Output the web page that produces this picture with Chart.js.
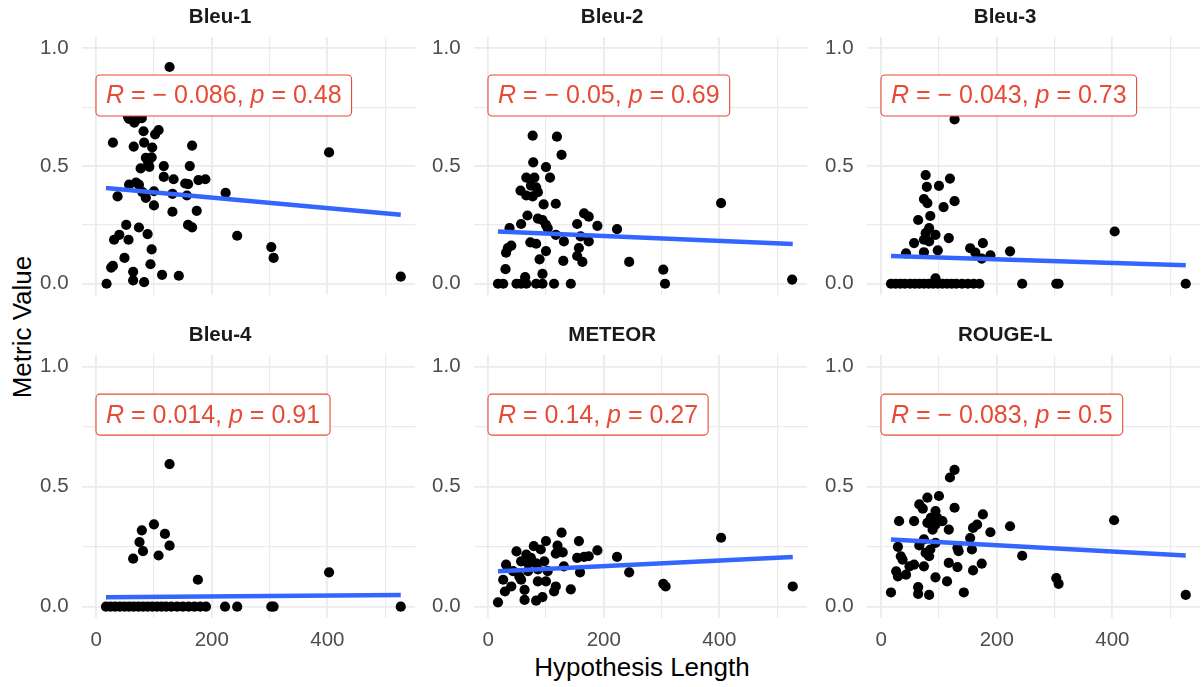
<!DOCTYPE html>
<html>
<head>
<meta charset="utf-8">
<title>Metric value vs hypothesis length</title>
<script src="https://cdn.jsdelivr.net/npm/chart.js@4/dist/chart.umd.min.js"></script>
<style>
  html, body { margin: 0; padding: 0; background: #fff; overflow: hidden; }
  #wrap { position: relative; width: 1204px; height: 687px; font-family: "Liberation Sans", Arial, sans-serif; }
  .panel { position: absolute; }
  .axis-title { position: absolute; color: #000; font-size: 26px; white-space: nowrap; line-height: 1; }
  #ytitle { left: 22px; top: 327px; transform: translate(-50%, -50%) rotate(-90deg); }
  #xtitle { left: 642px; top: 667px; transform: translate(-50%, -50%); }
</style>
</head>
<body>
<div id="wrap">
  <div class="axis-title" id="ytitle">Metric Value</div>
  <div class="axis-title" id="xtitle">Hypothesis Length</div>
</div>
<script>
// facet names, correlation labels and fitted line ends
const metricNames = ['Bleu-1', 'Bleu-2', 'Bleu-3', 'Bleu-4', 'METEOR', 'ROUGE-L'];
const rLabels = ['\u2212 0.086', '\u2212 0.05', '\u2212 0.043', '0.014', '0.14', '\u2212 0.083'];
const pLabels = ['0.48', '0.69', '0.73', '0.91', '0.27', '0.5'];
const fitLength = [17, 527];
const fitStart = [0.407, 0.222, 0.118, 0.039, 0.147, 0.28];
const fitEnd = [0.293, 0.169, 0.079, 0.049, 0.207, 0.213];
const xTicks = [0, 100, 200, 300, 400, 500];
const yTicks = [0, 0.25, 0.5, 0.75, 1];

// [hypothesis length, metric value]
const bleu1Points = [[18,0],[26,0.069],[29,0.076],[29,0.6],[31,0.187],[37,0.371],[40,0.208],[49,0.11],[52,0.25],[55,0.71],
  [56,0.187],[57,0.421],[57,0.7],[64,0.014],[64,0.051],[65,0.583],[66,0.685],[69,0.43],[72,0.7],[74,0.421],[74,0.239],
  [77,0.49],[79,0.704],[80,0.389],[82,0.648],[83,0.6],[83,0.007],[86,0.535],[86,0.365],[89,0.211],[90,0.514],[92,0.497],
  [94,0.083],[96,0.146],[96,0.537],[97,0.579],[100,0.393],[100,0.333],[102,0.635],[108,0.653],[114,0.038],[117,0.5],
  [117,0.454],[127,0.921],[132,0.382],[132,0.306],[134,0.444],[143,0.034],[154,0.426],[157,0.375],[159,0.423],[159,0.25],
  [162,0.5],[166,0.587],[166,0.24],[174,0.31],[177,0.44],[189,0.444],[224,0.386],[244,0.204],[303,0.156],[307,0.11],
  [403,0.558],[527,0.03]];
const bleu2Points = [[17,0],[26,0],[30,0.062],[31,0.132],[34,0.152],[37,0.236],[40,0.162],[49,0],[56,0.396],[57,0],
  [57,0.254],[64,0.028],[66,0],[66,0.451],[66,0.375],[68,0.29],[73,0.176],[74,0.417],[77,0.371],[77,0.629],[78,0.516],
  [80,0.451],[83,0],[83,0.41],[83,0.17],[86,0.389],[86,0.277],[89,0.104],[94,0],[94,0.042],[94,0.27],[96,0.337],
  [100,0.496],[100,0.25],[100,0.139],[103,0.236],[107,0.451],[114,0],[117,0.34],[117,0.208],[119,0.625],[127,0.548],
  [130,0.097],[131,0.18],[143,0],[154,0.254],[154,0.118],[157,0.152],[160,0.201],[163,0.093],[166,0.299],[174,0.285],
  [174,0.18],[189,0.246],[223,0.232],[244,0.093],[303,0.06],[306,0],[403,0.343],[526,0.018]];
const bleu3Points = [[17,0],[25,0],[33,0],[41,0],[50,0],[58,0],[66,0],[74,0],[82,0],[90,0],[98,0],[106,0],[114,0],
  [122,0],[130,0],[140,0],[150,0],[160,0],[170,0],[94,0.023],[43,0.129],[57,0.173],[64,0.271],[74,0.36],[74,0.187],
  [74,0.134],[77,0.462],[77,0.215],[79,0.412],[80,0.343],[83,0.236],[83,0.18],[85,0.288],[94,0.208],[98,0.142],
  [100,0.416],[108,0.326],[117,0.194],[119,0.447],[127,0.698],[127,0.351],[154,0.151],[163,0.132],[174,0.107],
  [176,0.173],[189,0.121],[223,0.138],[244,0],[303,0],[307,0],[404,0.222],[527,0]];
const bleu4Points = [[17,0],[25,0],[33,0],[41,0],[49,0],[57,0],[65,0],[73,0],[81,0],[89,0],[97,0],[105,0],[113,0],
  [121,0],[130,0],[140,0],[150,0],[160,0],[170,0],[180,0],[190,0],[223,0],[244,0],[303,0],[307,0],[527,0],
  [64,0.2],[75,0.269],[79,0.318],[81,0.231],[100,0.343],[108,0.213],[119,0.303],[127,0.254],[127,0.594],[176,0.112],
  [403,0.143]];
const meteorPoints = [[17,0.018],[26,0.112],[29,0.063],[31,0.175],[40,0.084],[43,0.148],[49,0.23],[54,0.125],[57,0.112],
  [57,0.189],[63,0.028],[63,0.07],[66,0.217],[69,0.148],[69,0.18],[74,0.203],[79,0.252],[83,0.025],[83,0.18],[86,0.105],
  [86,0.155],[91,0.238],[94,0.04],[97,0.189],[100,0.105],[100,0.273],[103,0.148],[114,0.063],[117,0.221],[117,0.084],
  [120,0.254],[127,0.308],[129,0.226],[131,0.168],[143,0.072],[154,0.203],[157,0.273],[159,0.143],[166,0.207],[174,0.21],
  [189,0.234],[223,0.207],[244,0.143],[303,0.095],[307,0.084],[403,0.287],[527,0.084]];
const rougePoints = [[17,0.059],[26,0.147],[29,0.126],[29,0.249],[31,0.356],[34,0.21],[37,0.196],[43,0.133],[49,0.168],
  [57,0.175],[57,0.356],[64,0.081],[64,0.053],[66,0.426],[66,0.255],[72,0.408],[74,0.28],[74,0.168],[77,0.224],[80,0.454],
  [80,0.349],[83,0.21],[83,0.049],[85,0.238],[86,0.37],[89,0.321],[94,0.398],[94,0.342],[94,0.266],[94,0.122],[97,0.37],
  [100,0.461],[106,0.356],[114,0.105],[117,0.321],[117,0.182],[119,0.538],[127,0.57],[127,0.412],[132,0.245],[132,0.165],
  [134,0.231],[143,0.059],[154,0.286],[157,0.238],[159,0.328],[159,0.151],[166,0.342],[174,0.179],[176,0.384],[189,0.31],
  [223,0.335],[244,0.212],[303,0.119],[307,0.095],[403,0.36],[527,0.049]];

const allPoints = [bleu1Points, bleu2Points, bleu3Points, bleu4Points, meteorPoints, rougePoints];

// layout of the 2x3 grid (px)
const PANEL_W = 336.3, PANEL_H = 263.3;
const colLeft = [81.7, 474, 866.7];
const rowTop = [36.7, 355];
const Y_AXIS_W = 60, TITLE_BLOCK = 34.1, X_AXIS_H = 45;

Chart.defaults.font.family = '"Liberation Sans", Arial, sans-serif';

// ggpubr-like R / p label box
const corLabel = {
  id: 'corLabel',
  afterDatasetsDraw(chart, args, opts) {
    const {ctx} = chart;
    const px = chart.scales.x.getPixelForValue(opts.x);
    const py = chart.scales.y.getPixelForValue(opts.y);
    const size = 25;
    let w = 0;
    opts.parts.forEach(p => {
      ctx.font = (p.it ? 'italic ' : '') + size + 'px "Liberation Sans", Arial, sans-serif';
      p.w = ctx.measureText(p.t).width;
      w += p.w;
    });
    const padX = 10, h = 41;
    ctx.save();
    ctx.beginPath();
    ctx.roundRect(px - padX, py - h / 2, w + padX * 2, h, 4);
    ctx.fillStyle = '#fff';
    ctx.fill();
    ctx.lineWidth = 1.1;
    ctx.strokeStyle = '#E64B35';
    ctx.stroke();
    ctx.fillStyle = '#E64B35';
    ctx.textBaseline = 'middle';
    let cx = px;
    opts.parts.forEach(p => {
      ctx.font = (p.it ? 'italic ' : '') + size + 'px "Liberation Sans", Arial, sans-serif';
      ctx.fillText(p.t, cx, py + 1);
      cx += p.w;
    });
    ctx.restore();
  }
};

metricNames.forEach((name, i) => {
  const row = Math.floor(i / 3), col = i % 3;
  const bottomRow = row === 1;
  const xh = bottomRow ? X_AXIS_H : 0;
  const canvasW = Y_AXIS_W + PANEL_W + 2;
  const canvasH = TITLE_BLOCK + PANEL_H + xh;

  const box = document.createElement('div');
  box.className = 'panel';
  box.style.left = (colLeft[col] - Y_AXIS_W) + 'px';
  box.style.top = (rowTop[row] - TITLE_BLOCK) + 'px';
  box.style.width = canvasW + 'px';
  box.style.height = canvasH + 'px';
  const cv = document.createElement('canvas');
  box.appendChild(cv);
  document.getElementById('wrap').appendChild(box);

  new Chart(cv, {
    type: 'scatter',
    data: {
      datasets: [
        {
          type: 'line',
          data: fitLength.map((x, k) => ({x, y: k === 0 ? fitStart[i] : fitEnd[i]})),
          borderColor: '#3366FF',
          borderWidth: 4.5,
          pointRadius: 0,
          fill: false
        },
        {
          data: allPoints[i].map(p => ({x: p[0], y: p[1]})),
          backgroundColor: '#000',
          borderWidth: 0,
          pointRadius: 5.1,
          pointHoverRadius: 5.1
        }
      ]
    },
    options: {
      responsive: true,
      maintainAspectRatio: false,
      animation: false,
      events: [],
      layout: {padding: {top: 0, right: 2, bottom: 0, left: 0}},
      plugins: {
        legend: {display: false},
        tooltip: {enabled: false},
        title: {
          display: true,
          text: name,
          color: '#1A1A1A',
          font: {size: 20.5, weight: 'bold', lineHeight: 1.2},
          padding: {top: 2, bottom: 7.5}
        },
        corLabel: {
          x: fitLength[0],
          y: 0.8,
          parts: [
            {t: 'R', it: true},
            {t: ' = ' + rLabels[i] + ', '},
            {t: 'p', it: true},
            {t: ' = ' + pLabels[i]}
          ]
        }
      },
      scales: {
        x: {
          type: 'linear',
          min: -24.5,
          max: 552,
          border: {display: false},
          grid: {
            color: '#EBEBEB',
            drawTicks: false,
            lineWidth: c => (c.tick && c.tick.value % 200 === 0) ? 1.8 : 1.2
          },
          ticks: {
            display: bottomRow,
            stepSize: 100,
            includeBounds: false,
            autoSkip: false,
            maxRotation: 0,
            padding: 9.4,
            color: '#4D4D4D',
            font: {size: 20.5, lineHeight: 1.2},
            callback: v => (xTicks.includes(v) && v % 200 === 0) ? String(v) : ''
          },
          afterFit: s => { s.height = xh; s.paddingLeft = 0; s.paddingRight = 0; }
        },
        y: {
          type: 'linear',
          min: -0.049,
          max: 1.048,
          border: {display: false},
          grid: {
            color: '#EBEBEB',
            drawTicks: false,
            lineWidth: c => (c.tick && Math.abs(c.tick.value * 2 - Math.round(c.tick.value * 2)) < 1e-6) ? 1.8 : 1.2
          },
          ticks: {
            stepSize: 0.25,
            includeBounds: false,
            autoSkip: false,
            padding: 13.4,
            color: '#4D4D4D',
            font: {size: 20.5, lineHeight: 1.2},
            callback: v => (yTicks.includes(v) && v % 0.5 === 0) ? v.toFixed(1) : ''
          },
          afterFit: s => { s.width = Y_AXIS_W; s.paddingTop = 0; s.paddingBottom = 0; }
        }
      }
    },
    plugins: [corLabel]
  });
});
</script>
</body>
</html>
